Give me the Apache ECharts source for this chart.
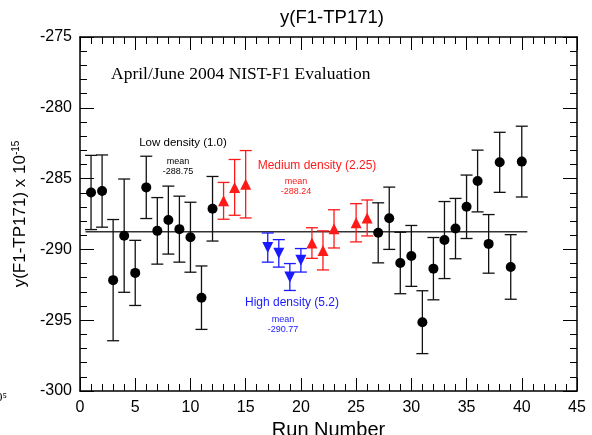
<!DOCTYPE html>
<html lang="en">
<head>
    <meta charset="UTF-8">
    <title>y(F1-TP171)</title>
    <script src="https://cdn.jsdelivr.net/npm/echarts@6/dist/echarts.min.js"></script>
    <style>
        body { margin: 0; background: #fff; }
        #chart { width: 592px; height: 435px; }
    </style>
</head>
<body>
    <div id="chart"></div>
    <script>
        // Low density (1.0)
        const lowRuns = [1, 2, 3, 4, 5, 6, 7, 8, 9, 10, 11, 12, 27, 28, 29, 30, 31, 32, 33, 34, 35, 36, 37, 38, 39, 40];
        const lowVals = [-285.98, -285.88, -292.17, -289.03, -291.66, -285.62, -288.69, -287.93, -288.57, -289.14, -293.41, -287.13,
            -288.83, -287.8, -290.96, -290.46, -295.14, -291.36, -289.34, -288.53, -286.99, -285.17, -289.61, -283.85, -291.24, -283.8];
        const lowErrs = [2.62, 2.55, 4.28, 4.0, 2.3, 2.2, 2.35, 2.4, 2.33, 2.47, 2.24, 2.28,
            2.12, 2.2, 2.17, 2.15, 2.22, 2.2, 2.72, 2.13, 2.24, 2.18, 2.07, 2.12, 2.28, 2.5];

        // Medium density (2.25)
        const medRuns = [13, 14, 15, 21, 22, 23, 25, 26];
        const medVals = [-286.57, -285.62, -285.4, -289.55, -290.07, -288.55, -288.12, -287.78];
        const medErrs = [1.3, 1.97, 2.38, 1.08, 1.38, 1.35, 1.35, 1.27];

        // High density (5.2)
        const highRuns = [17, 18, 19, 20];
        const highVals = [-289.87, -290.28, -291.95, -290.77];
        const highErrs = [1.03, 0.97, 0.95, 0.83];

        const meanLow = -288.75;
        const meanLine = [[0.5, meanLow], [40.5, meanLow]];

        const sans = 'Liberation Sans, Arial, sans-serif';
        const red = '#ff1a1a';
        const blue = '#1a1aff';

        function pts(runs, vals, errs) {
            return runs.map((r, i) => [r, vals[i], errs[i]]);
        }

        function errorSeries(data, color) {
            return {
                type: 'custom',
                data: data,
                z: 2,
                encode: { x: 0, y: 1 },
                renderItem: function (params, api) {
                    const x = api.value(0), y = api.value(1), e = api.value(2);
                    const top = api.coord([x, y + e]);
                    const bot = api.coord([x, y - e]);
                    const hw = 6;
                    const st = { stroke: color, lineWidth: 1.3 };
                    return {
                        type: 'group',
                        children: [
                            { type: 'line', shape: { x1: top[0], y1: top[1], x2: bot[0], y2: bot[1] }, style: st },
                            { type: 'line', shape: { x1: top[0] - hw, y1: top[1], x2: top[0] + hw, y2: top[1] }, style: st },
                            { type: 'line', shape: { x1: bot[0] - hw, y1: bot[1], x2: bot[0] + hw, y2: bot[1] }, style: st }
                        ]
                    };
                }
            };
        }

        function txt(x, y, text, size, color, font) {
            return {
                type: 'text', x: x, y: y,
                style: { text: text, fontSize: size, fill: color, fontFamily: font || sans, align: 'center', verticalAlign: 'middle' }
            };
        }

        const xTicks = {
            axisTick: { show: true, inside: true, length: 13, lineStyle: { color: '#000' } },
            minorTick: { show: true, splitNumber: 5, length: 7, lineStyle: { color: '#000' } },
            axisLine: { show: true, lineStyle: { color: '#000', width: 1.5 } },
            splitLine: { show: false }
        };
        const yTicks = {
            axisTick: { show: true, inside: true, length: 14, lineStyle: { color: '#000' } },
            minorTick: { show: true, splitNumber: 5, length: 7, lineStyle: { color: '#000' } },
            axisLine: { show: true, lineStyle: { color: '#000', width: 1.5 } },
            splitLine: { show: false }
        };

        // second grid on the same rectangle only carries the top and right frame ticks
        const grid = { left: 80, top: 37, right: 15, bottom: 44, outerBoundsMode: 'none' };

        const chart = echarts.init(document.getElementById('chart'));
        chart.setOption({
            animation: false,
            grid: [grid, Object.assign({}, grid)],
            xAxis: [
                Object.assign({
                    type: 'value', gridIndex: 0, min: 0, max: 45, interval: 5, position: 'bottom',
                    name: 'Run Number', nameLocation: 'middle', nameGap: 20,
                    nameTextStyle: { fontSize: 20, color: '#000', fontFamily: sans },
                    axisLabel: { fontSize: 16, color: '#000', margin: 9, fontFamily: sans }
                }, xTicks),
                Object.assign({
                    type: 'value', gridIndex: 1, min: 100, max: 145, interval: 5, position: 'top',
                    axisLabel: { show: false }
                }, xTicks)
            ],
            yAxis: [
                Object.assign({
                    type: 'value', gridIndex: 0, min: -300, max: -275, interval: 5, position: 'left',
                    name: '{a|y(F1-TP171) x 10}{b|-15}', nameLocation: 'middle', nameGap: 43, nameRotate: 90,
                    nameTextStyle: {
                        rich: {
                            a: { fontSize: 17, color: '#000', fontFamily: sans },
                            b: { fontSize: 10, color: '#000', fontFamily: sans, verticalAlign: 'top', padding: [0, 0, 8, 0] }
                        }
                    },
                    axisLabel: { fontSize: 16, color: '#000', margin: 8, fontFamily: sans }
                }, yTicks),
                Object.assign({
                    type: 'value', gridIndex: 1, min: -300, max: -275, interval: 5, position: 'right',
                    axisLabel: { show: false }
                }, yTicks)
            ],
            graphic: [
                txt(332, 18, 'y(F1-TP171)', 18.5, '#000'),
                {
                    type: 'text', x: 111, y: 74,
                    style: { text: 'April/June 2004 NIST-F1 Evaluation', fontSize: 17.5, fill: '#000',
                        fontFamily: 'Liberation Serif, Times New Roman, serif', align: 'left', verticalAlign: 'middle' }
                },
                txt(183, 143, 'Low density (1.0)', 11.5, '#000'),
                txt(178, 162, 'mean', 9, '#000'),
                txt(178, 172, '-288.75', 9, '#000'),
                txt(317, 166, 'Medium density (2.25)', 12, red),
                txt(296, 182, 'mean', 9, red),
                txt(296, 192, '-288.24', 9, red),
                txt(292, 303, 'High density (5.2)', 12, blue),
                txt(283, 320, 'mean', 9, blue),
                txt(283, 330, '-290.77', 9, blue),
                {
                    type: 'text', x: -4, y: 398,
                    style: { text: '0⁵', fontSize: 13, fill: '#000', fontFamily: 'Liberation Serif, serif', align: 'left', verticalAlign: 'middle' }
                }
            ],
            series: [
                {
                    type: 'line', data: meanLine, symbol: 'none', z: 1,
                    lineStyle: { color: '#333', width: 1.5 }
                },
                errorSeries(pts(lowRuns, lowVals, lowErrs), '#111'),
                errorSeries(pts(medRuns, medVals, medErrs), red),
                errorSeries(pts(highRuns, highVals, highErrs), blue),
                {
                    type: 'scatter', data: pts(lowRuns, lowVals, lowErrs), symbol: 'circle', symbolSize: 10, z: 3,
                    itemStyle: { color: '#000', opacity: 1 }
                },
                {
                    type: 'scatter', data: pts(medRuns, medVals, medErrs), symbol: 'triangle', symbolSize: 11, z: 3,
                    itemStyle: { color: red, opacity: 1 }
                },
                {
                    type: 'scatter', data: pts(highRuns, highVals, highErrs), symbol: 'triangle', symbolRotate: 180, symbolSize: 11, z: 3,
                    itemStyle: { color: blue, opacity: 1 }
                }
            ]
        });
    </script>
</body>
</html>
